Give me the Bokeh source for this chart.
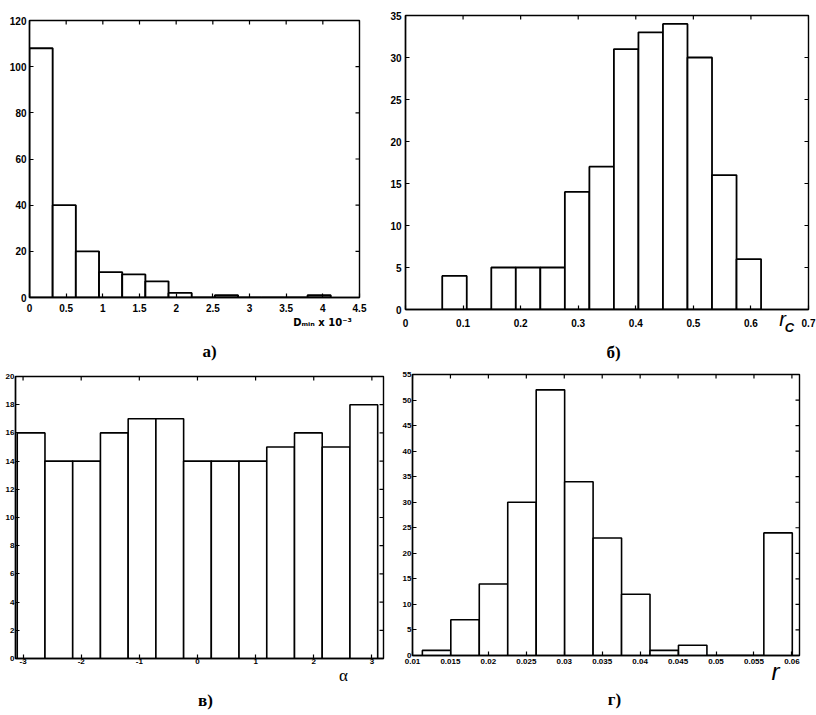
from bokeh.plotting import figure
from bokeh.layouts import row, column
from bokeh.models import FixedTicker, LinearAxis, Range1d
from bokeh.embed import file_html
from bokeh.resources import INLINE

# ---------------- data ----------------
# panel а) : D_min x 10^-3
a_edges = [0.0, 0.316, 0.632, 0.948, 1.264, 1.58, 1.896, 2.212, 2.528, 2.844, 3.16, 3.476, 3.792, 4.108]
a_counts = [108, 40, 20, 11, 10, 7, 2, 0, 1, 0, 0, 0, 1]
a_xticks = [0, 0.5, 1, 1.5, 2, 2.5, 3, 3.5, 4, 4.5]
a_xlabels = ["0", "0.5", "1", "1.5", "2", "2.5", "3", "3.5", "4", "4.5"]
a_yticks = [0, 20, 40, 60, 80, 100, 120]
a_ylabels = ["0", "20", "40", "60", "80", "100", "120"]

# panel б) : r_C
b_edges = [0.0638, 0.1064, 0.149, 0.1916, 0.2342, 0.2768, 0.3194, 0.362, 0.4046, 0.4472, 0.4898, 0.5324, 0.575, 0.6176]
b_counts = [4, 0, 5, 5, 5, 14, 17, 31, 33, 34, 30, 16, 6]
b_xticks = [0, 0.1, 0.2, 0.3, 0.4, 0.5, 0.6, 0.7]
b_xlabels = ["0", "0.1", "0.2", "0.3", "0.4", "0.5", "0.6", "0.7"]
b_yticks = [0, 5, 10, 15, 20, 25, 30, 35]
b_ylabels = ["0", "5", "10", "15", "20", "25", "30", "35"]

# panel в) : alpha
c_edges = [-3.1, -2.623, -2.146, -1.669, -1.192, -0.715, -0.238, 0.238, 0.715, 1.192, 1.669, 2.146, 2.623, 3.1]
c_counts = [16, 14, 14, 16, 17, 17, 14, 14, 14, 15, 16, 15, 18]
c_xticks = [-3, -2, -1, 0, 1, 2, 3]
c_xlabels = ["-3", "-2", "-1", "0", "1", "2", "3"]
c_yticks = [0, 2, 4, 6, 8, 10, 12, 14, 16, 18, 20]
c_ylabels = ["0", "2", "4", "6", "8", "10", "12", "14", "16", "18", "20"]

# panel г) : r
d_edges = [0.0113, 0.01505, 0.0188, 0.02255, 0.0263, 0.03005, 0.0338, 0.03755, 0.0413, 0.04505, 0.0488, 0.05255, 0.0563, 0.06005]
d_counts = [1, 7, 14, 30, 52, 34, 23, 12, 1, 2, 0, 0, 24]
d_xticks = [0.01, 0.015, 0.02, 0.025, 0.03, 0.035, 0.04, 0.045, 0.05, 0.055, 0.06]
d_xlabels = ["0.01", "0.015", "0.02", "0.025", "0.03", "0.035", "0.04", "0.045", "0.05", "0.055", "0.06"]
d_yticks = [0, 5, 10, 15, 20, 25, 30, 35, 40, 45, 50, 55]
d_ylabels = ["0", "5", "10", "15", "20", "25", "30", "35", "40", "45", "50", "55"]

SANS = "Liberation Sans"
SERIF = "Liberation Serif"
TICK_LEN = 4  # px, inward


def make_panel(edges, counts, xr, yr, xticks, xlabels, yticks, ylabels,
               W, H, bl, br, bt, bb, fsize, xs, ys, lw):
    p = figure(width=W, height=H, x_range=Range1d(*xr), y_range=Range1d(*yr),
               output_backend="svg", toolbar_location=None, frame_align=False,
               min_border_left=bl, min_border_right=br,
               min_border_top=bt, min_border_bottom=bb)
    p.quad(left=edges[:-1], right=edges[1:], bottom=0, top=counts,
           fill_color="white", line_color="black", line_width=lw)
    p.grid.visible = False
    p.background_fill_color = "white"
    p.border_fill_color = "white"
    p.outline_line_color = "black"
    p.outline_line_width = 1.4
    for ax, ticks, labels, so in ((p.xaxis[0], xticks, xlabels, xs),
                                  (p.yaxis[0], yticks, ylabels, ys)):
        ax.ticker = FixedTicker(ticks=ticks)
        ax.major_label_overrides = {t: l for t, l in zip(ticks, labels)}
        ax.major_tick_in = TICK_LEN
        ax.major_tick_out = 0
        ax.minor_tick_line_color = None
        ax.axis_line_color = "black"
        ax.axis_line_width = 1.4
        ax.major_tick_line_width = 1.2
        ax.major_label_text_font = SANS
        ax.major_label_text_font_style = "bold"
        ax.major_label_text_font_size = f"{fsize}px"
        ax.major_label_text_color = "black"
        ax.major_label_standoff = so

    # mirrored inward ticks on the top and right edges of the box
    fw, fh = W - bl - br, H - bt - bb
    dx = TICK_LEN * (xr[1] - xr[0]) / fw
    dy = TICK_LEN * (yr[1] - yr[0]) / fh
    p.segment(x0=xticks, y0=[yr[1]] * len(xticks), x1=xticks, y1=[yr[1] - dy] * len(xticks),
              line_color="black", line_width=1.2)
    p.segment(x0=[xr[1]] * len(yticks), y0=yticks, x1=[xr[1] - dx] * len(yticks), y1=yticks,
              line_color="black", line_width=1.2)
    return p


def text_below(p, frame_lr, xr, px, text, size, font, style, standoff):
    """A caption under the frame, drawn as the single label of a bare extra axis."""
    L, R = frame_lr
    x = xr[0] + (px - L) / (R - L) * (xr[1] - xr[0])
    ax = LinearAxis(ticker=FixedTicker(ticks=[x]), major_label_overrides={x: text},
                    axis_line_color=None, major_tick_line_color=None,
                    minor_tick_line_color=None, major_tick_in=0, major_tick_out=0,
                    minor_tick_in=0, minor_tick_out=0,
                    major_label_standoff=standoff, major_label_text_font=font,
                    major_label_text_font_style=style,
                    major_label_text_font_size=f"{size}px",
                    major_label_text_color="black")
    p.add_layout(ax, "below")


# ---------------- panel а) ----------------
a_xr, a_yr = (0, 4.5), (0, 120)
pa = make_panel(a_edges, a_counts, a_xr, a_yr, a_xticks, a_xlabels, a_yticks, a_ylabels,
                385, 366, 29, 26, 20, 69, 10, 6, 3, 1.9)
fa = (29, 359)
text_below(pa, fa, a_xr, 322, "Dₘᵢₙ x 10⁻³", 10, "DejaVu Sans", "bold", 2)
text_below(pa, fa, a_xr, 209, "а)", 17, SERIF, "bold", 11)

# ---------------- panel б) ----------------
b_xr, b_yr = (0, 0.7), (0, 35)
pb = make_panel(b_edges, b_counts, b_xr, b_yr, b_xticks, b_xlabels, b_yticks, b_ylabels,
                431, 366, 20, 8, 15, 57, 10, 9, 4, 1.8)
fb = (405, 808)
text_below(pb, fb, b_xr, 782, "r", 20, SANS, "italic", -22)
text_below(pb, fb, b_xr, 789, "C", 13, SANS, "bold italic", -13)
text_below(pb, fb, b_xr, 613, "б)", 17, SERIF, "bold", 5)

# ---------------- panel в) ----------------
c_xr, c_yr = (-3.13, 3.2), (0, 20)
pc = make_panel(c_edges, c_counts, c_xr, c_yr, c_xticks, c_xlabels, c_yticks, c_ylabels,
                395, 349, 15, 12, 10, 57, 8, 0, 1, 1.6)
fc = (15, 383)
text_below(pc, fc, c_xr, 343, "α", 17, SERIF, "normal", -1)
text_below(pc, fc, c_xr, 205, "в)", 17, SERIF, "bold", 3)

# ---------------- panel г) ----------------
d_xr, d_yr = (0.01, 0.061), (0, 55)
pd_ = make_panel(d_edges, d_counts, d_xr, d_yr, d_xticks, d_xlabels, d_yticks, d_ylabels,
                 421, 349, 17, 17, 8, 60, 8, 3, 1, 1.6)
fd = (412, 799)
text_below(pd_, fd, d_xr, 775, "r", 24, SANS, "italic", -9)
text_below(pd_, fd, d_xr, 614, "г)", 17, SERIF, "bold", 2)

layout = column(row(pa, pb), row(pc, pd_))
open("out.html", "w").write(file_html(layout, INLINE))
